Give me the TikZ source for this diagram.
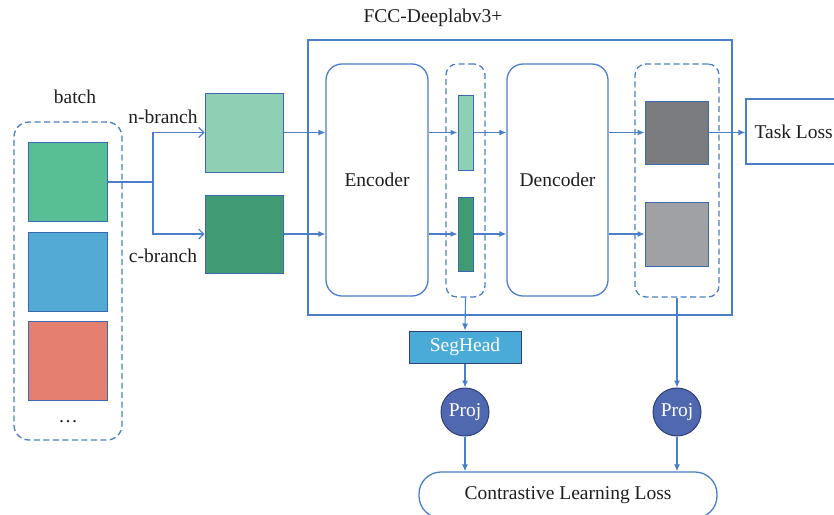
\documentclass[tikz,border=0pt]{standalone}
\usepackage{fontspec}
\setmainfont{Liberation Serif}
\usetikzlibrary{arrows.meta}

\definecolor{lineblue}{HTML}{4A7EC8}
\definecolor{boxblue}{HTML}{3C68B0}
\definecolor{batchgreen}{HTML}{57BF93}
\definecolor{batchblue}{HTML}{53AAD5}
\definecolor{batchred}{HTML}{E57F70}
\definecolor{nbranch}{HTML}{8FD0B5}
\definecolor{cbranch}{HTML}{409B72}
\definecolor{featdark}{HTML}{7A7B7F}
\definecolor{featlight}{HTML}{A0A1A4}
\definecolor{segfill}{HTML}{4AABD8}
\definecolor{projfill}{HTML}{5068B0}
\definecolor{projline}{HTML}{2E3F7A}
\definecolor{txt}{HTML}{1E1E1E}

\tikzset{
    every node/.style={font=\fontsize{19.5}{22}\selectfont, text=txt},
    img/.style={draw=boxblue, line width=1pt, inner sep=0pt},
    block/.style={draw=lineblue, line width=1.3pt, rounded corners=16pt, inner sep=0pt},
    group/.style={draw=lineblue, line width=1.3pt, dash pattern=on 6pt off 3.5pt, rounded corners=11pt, inner sep=0pt},
    arr/.style={draw=lineblue, line width=1.1pt, -{Latex[length=7pt,width=6pt]}},
    arrb/.style={draw=lineblue, line width=1.1pt, -{Straight Barb[length=5pt,width=10pt]}},
}

\begin{document}
\begin{tikzpicture}[x=1pt, y=-1pt]
    \useasboundingbox (0,0) rectangle (834,514);
    \clip (0,0) rectangle (834,514);

    % --- Batch ---
    \node[group, rounded corners=15pt, minimum width=108pt, minimum height=318pt] (batch) at (68,281) {};
    \node at (75,97) (batchlbl) {batch};
    \node[img, fill=batchgreen, minimum width=79pt, minimum height=79pt] (img1) at (68,182) {};
    \node[img, fill=batchblue, minimum width=79pt, minimum height=79pt] (img2) at (68,271.5) {};
    \node[img, fill=batchred, minimum width=79pt, minimum height=79pt] (img3) at (68,361) {};
    \node at (68,422) (dots) {\dots};

    % --- Zweige ---
    \node[img, fill=nbranch, minimum width=78pt, minimum height=79pt] (nb) at (244,132.5) {};
    \node[img, fill=cbranch, minimum width=78pt, minimum height=78pt] (cb) at (244,234) {};
    \node at (163,117) (nlbl) {n-branch};
    \node at (163,256) (clbl) {c-branch};
    \draw[draw=lineblue, line width=1.1pt] (img1.east) -- ++(45,0) coordinate (fork);
    \draw[arrb] (fork) |- (nb.west);
    \draw[arrb] (fork) |- (cb.west);

    % --- FCC-Deeplabv3+ ---
    \node[draw=lineblue, line width=1.3pt, minimum width=424pt, minimum height=275pt] (fcc) at (520,177.5) {};
    \node at (433,18) (fcclbl) {FCC-Deeplabv3+};
    \node[block, minimum width=102pt, minimum height=232pt] (enc) at (377,180) {Encoder};
    \node[group, minimum width=39pt, minimum height=233pt] (g1) at (465.5,180.5) {};
    \node[img, fill=nbranch, minimum width=15pt, minimum height=75pt] (f1) at (465.5,132.5) {};
    \node[img, fill=cbranch, minimum width=15pt, minimum height=74pt] (f2) at (465.5,234) {};
    \node[block, minimum width=101pt, minimum height=232pt] (dec) at (557.5,180) {Dencoder};
    \node[group, minimum width=84pt, minimum height=233pt] (g2) at (677,180.5) {};
    \node[img, fill=featdark, minimum width=63pt, minimum height=63pt] (o1) at (676.5,132.5) {};
    \node[img, fill=featlight, minimum width=63pt, minimum height=64pt] (o2) at (676.5,234) {};

    \draw[arr] (nb.east) -- (enc.west |- nb.east);
    \draw[arr] (cb.east) -- (enc.west |- cb.east);
    \draw[arr] (enc.east |- f1.west) -- (f1.west);
    \draw[arr] (enc.east |- f2.west) -- (f2.west);
    \draw[arr] (f1.east) -- (dec.west |- f1.east);
    \draw[arr] (f2.east) -- (dec.west |- f2.east);
    \draw[arr] (dec.east |- o1.west) -- (o1.west);
    \draw[arr] (dec.east |- o2.west) -- (o2.west);

    % --- Verluste ---
    \node[draw=lineblue, line width=1.3pt, minimum width=120pt, minimum height=65pt] (task) at (806,131.5) {};
    \node[anchor=west] at (751,132) (tasklbl) {Task Loss};
    \draw[arr] (o1.east) -- (task.west |- o1.east);

    \node[draw=projline, line width=1pt, fill=segfill, minimum width=112pt, minimum height=32pt, inner sep=0pt, text=white] (seg) at (465,347) {SegHead};
    \node[circle, draw=projline, line width=1pt, fill=projfill, minimum size=48pt, inner sep=0pt, text=white] (p1) at (465,412) {Proj};
    \node[circle, draw=projline, line width=1pt, fill=projfill, minimum size=48pt, inner sep=0pt, text=white] (p2) at (677,412) {Proj};
    \node[draw=lineblue, line width=1.3pt, rounded corners=22pt, minimum width=298pt, minimum height=46pt] (cl) at (568,495) {Contrastive Learning Loss};

    \draw[arr] (g1.south) -- (seg.north);
    \draw[arr] (seg.south) -- (p1.north);
    \draw[arr] (g2.south) -- (p2.north);
    \draw[arr] (p1.south) -- (p1.south |- cl.north);
    \draw[arr] (p2.south) -- (p2.south |- cl.north);
\end{tikzpicture}
\end{document}
